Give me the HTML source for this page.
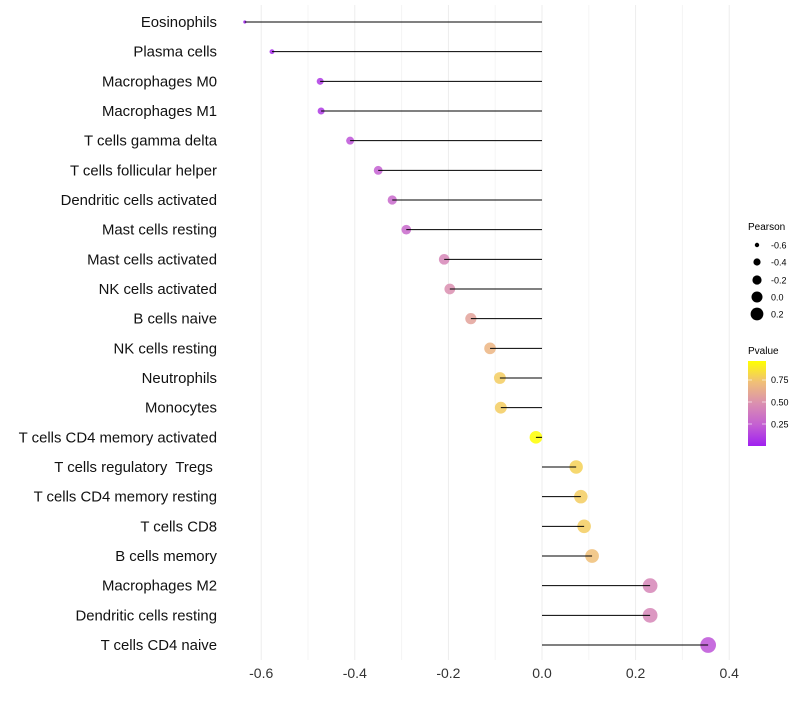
<!DOCTYPE html>
<html><head><meta charset="utf-8"><style>
body{margin:0;background:#fff;}
svg{font-family:"Liberation Sans",sans-serif;}
text{white-space:pre;}
</style></head><body>
<svg id="chart" width="800" height="700">
<defs>
<linearGradient id="pg" x1="0" y1="1" x2="0" y2="0">
<stop offset="0" stop-color="#a020f0"/><stop offset="0.25" stop-color="#c460d2"/>
<stop offset="0.5" stop-color="#da8fb0"/><stop offset="0.75" stop-color="#f0bf78"/>
<stop offset="1" stop-color="#ffff00"/>
</linearGradient>
</defs>
<g id="grid"></g><g id="marks"></g><g id="labels"></g>
<g font-size="9">
<text x="748" y="230" font-size="10">Pearson</text>
<circle cx="757" cy="245" r="2.2"/><text x="771" y="248.5">-0.6</text>
<circle cx="757" cy="262" r="3.6"/><text x="771" y="265.5">-0.4</text>
<circle cx="757" cy="280" r="4.6"/><text x="771" y="283.5">-0.2</text>
<circle cx="757" cy="297" r="5.5"/><text x="771" y="300.5">0.0</text>
<circle cx="757" cy="314" r="6.4"/><text x="771" y="317.5">0.2</text>
</g>
<g font-size="9">
<text x="748" y="354" font-size="10">Pvalue</text>
<rect x="748" y="361" width="18" height="85" fill="url(#pg)"/>
<text x="771" y="383">0.75</text><text x="771" y="405.5">0.50</text><text x="771" y="427.5">0.25</text>
<line x1="748" x2="752" y1="380" y2="380" stroke="#fff" opacity=".6"/><line x1="762" x2="766" y1="380" y2="380" stroke="#fff" opacity=".6"/>
<line x1="748" x2="752" y1="402" y2="402" stroke="#fff" opacity=".6"/><line x1="762" x2="766" y1="402" y2="402" stroke="#fff" opacity=".6"/>
<line x1="748" x2="752" y1="424" y2="424" stroke="#fff" opacity=".6"/><line x1="762" x2="766" y1="424" y2="424" stroke="#fff" opacity=".6"/>
</g>
</svg>
<script>
const categories=["Eosinophils","Plasma cells","Macrophages M0","Macrophages M1","T cells gamma delta","T cells follicular helper","Dendritic cells activated","Mast cells resting","Mast cells activated","NK cells activated","B cells naive","NK cells resting","Neutrophils","Monocytes","T cells CD4 memory activated","T cells regulatory  Tregs ","T cells CD4 memory resting","T cells CD8","B cells memory","Macrophages M2","Dendritic cells resting","T cells CD4 naive"];
const pearson=[-0.635,-0.577,-0.474,-0.472,-0.41,-0.35,-0.32,-0.29,-0.209,-0.197,-0.152,-0.111,-0.09,-0.088,-0.013,0.073,0.083,0.09,0.107,0.231,0.231,0.355];
const pvalue=[0.0,0.05,0.1,0.1,0.2,0.25,0.3,0.3,0.45,0.5,0.6,0.7,0.8,0.8,1.0,0.82,0.8,0.8,0.75,0.45,0.45,0.2];
const xTicks=[-0.6,-0.4,-0.2,0.0,0.2,0.4];
const xMinor=[-0.5,-0.3,-0.1,0.1,0.3];
const NS="http://www.w3.org/2000/svg";
const X=v=>542+v*468;
const Y=i=>22+i*29.667;
const R=v=>Math.sqrt(Math.max(2.5+(v+0.635)*60,1));
const stops=[[0,[160,32,240]],[0.25,[196,96,210]],[0.5,[218,143,176]],[0.75,[240,191,120]],[1,[255,255,0]]];
function col(p){for(let k=1;k<stops.length;k++){if(p<=stops[k][0]){const a=stops[k-1],b=stops[k],t=(p-a[0])/(b[0]-a[0]);return "rgb("+a[1].map((c,j)=>Math.round(c+(b[1][j]-c)*t)).join(",")+")";}}return "rgb(255,255,0)";}
function mk(t,a,p){const e=document.createElementNS(NS,t);for(const k in a)e.setAttribute(k,a[k]);p.appendChild(e);return e;}
const grid=document.getElementById("grid"),marks=document.getElementById("marks"),labels=document.getElementById("labels");
xMinor.forEach(v=>{const l=mk("line",{x1:X(v),x2:X(v),y1:5,y2:660,stroke:"#f4f4f4","stroke-width":1},grid);

});
xTicks.forEach(v=>{const l=mk("line",{x1:X(v),x2:X(v),y1:5,y2:660,stroke:"#ededed","stroke-width":1},grid);


const t=mk("text",{x:X(v),y:678,"text-anchor":"middle","font-size":14,fill:"#333"},labels);t.textContent=v.toFixed(1);

});
categories.forEach((c,i)=>{
const t=mk("text",{x:217,y:Y(i)+5,"text-anchor":"end","font-size":14.9,fill:"#111"},labels);t.textContent=c;


const p=mk("circle",{cx:X(pearson[i]),cy:Y(i),r:R(pearson[i]),fill:col(pvalue[i]),"fill-opacity":0.85},marks);


const s=mk("line",{x1:X(0),x2:X(pearson[i]),y1:Y(i),y2:Y(i),stroke:"#000","stroke-width":1},marks);


});
</script>
</body></html>
